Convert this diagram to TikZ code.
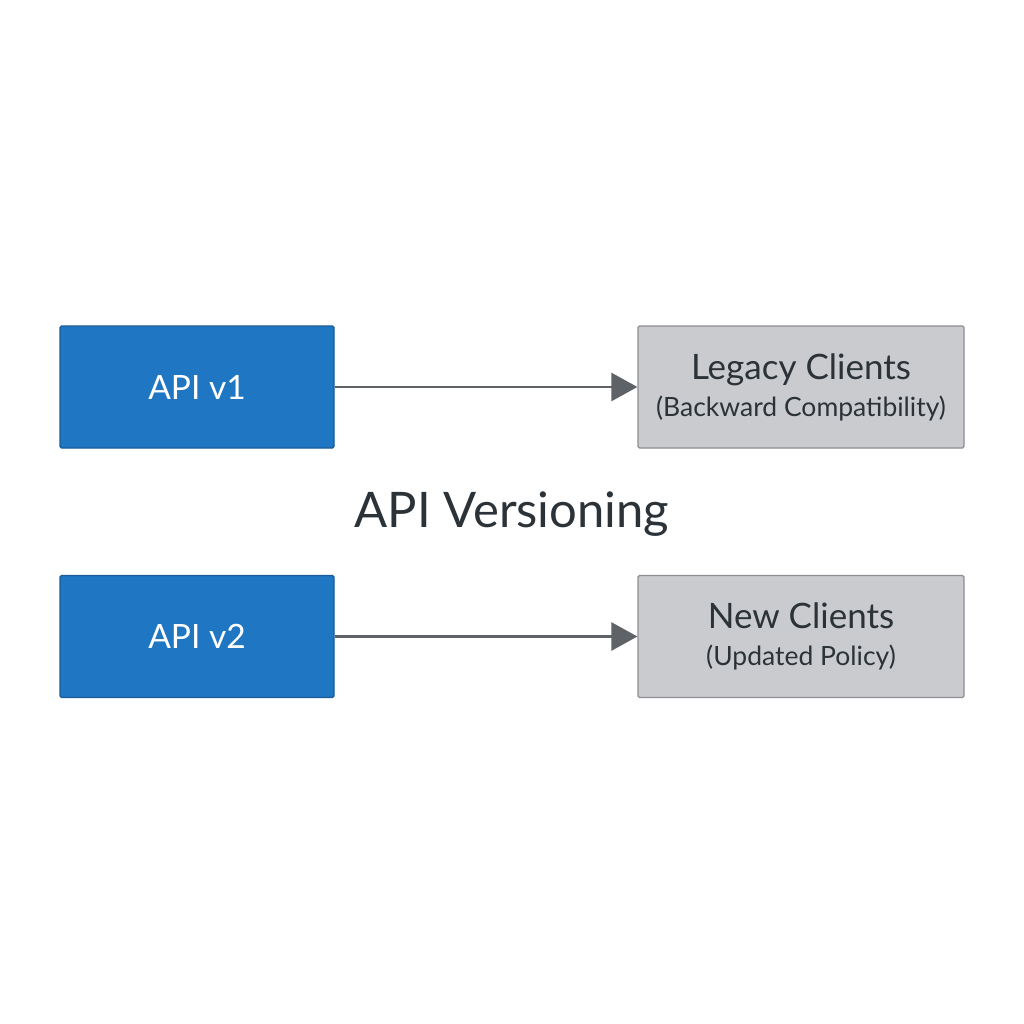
\documentclass[tikz,border=0pt]{standalone}
\usepackage{fontspec}
\setmainfont{Lato}
\usetikzlibrary{arrows.meta}
\definecolor{bluefill}{HTML}{1F76C2}
\definecolor{blueline}{HTML}{1A5C98}
\definecolor{grayfill}{HTML}{C9CBCE}
\definecolor{grayline}{HTML}{8C8F93}
\definecolor{arrowc}{HTML}{5F6368}
\definecolor{textc}{HTML}{2B3238}
\begin{document}
\begin{tikzpicture}[x=1pt,y=-1pt,
  apibox/.style={draw=blueline,fill=bluefill,line width=1.2pt,rounded corners=1.5pt,minimum width=274pt,minimum height=122pt,inner sep=0pt,text=white,font=\fontsize{33.5}{38}\selectfont},
  clientbox/.style={draw=grayline,fill=grayfill,line width=1.2pt,rounded corners=1.5pt,minimum width=326pt,minimum height=122pt,inner sep=0pt,text=textc,align=center,font=\fontsize{26}{37}\selectfont},
  conn/.style={draw=arrowc,line width=2.5pt,-{Triangle[length=26pt,width=28pt]}}]
\useasboundingbox[fill=white] (0,0) rectangle (1024,1024);
\node[apibox] (v1) at (197,387) {API v1};
\node[clientbox] (legacy) at (801,387) {{\fontsize{35}{40}\selectfont Legacy Clients}\\{\fontsize{26.5}{30}\selectfont (Backward Compatibility)}};
\node[apibox] (v2) at (197,636.5) {API v2};
\node[clientbox] (new) at (801,636.5) {{\fontsize{35}{40}\selectfont New Clients}\\{\fontsize{26.5}{30}\selectfont (Updated Policy)}};
\node[text=textc,font=\fontsize{49}{56}\selectfont] (title) at (512,514) {API Versioning};
\draw[conn] (v1.east) -- (legacy.west);
\draw[conn] (v2.east) -- (new.west);
\end{tikzpicture}
\end{document}
